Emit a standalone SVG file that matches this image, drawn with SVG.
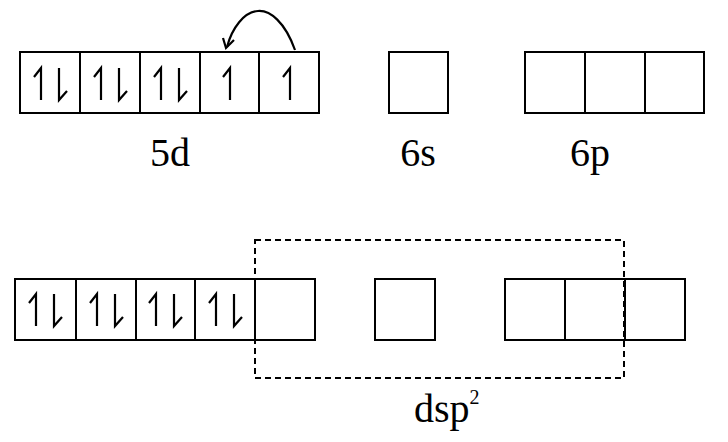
<svg xmlns="http://www.w3.org/2000/svg" width="728" height="442" viewBox="0 0 728 442">
<style>
.b{fill:#fff;stroke:#000;stroke-width:2}
.e{fill:none;stroke:#000;stroke-width:2.2}
text{font-family:'Liberation Serif','Times New Roman',serif;font-size:40px;fill:#000}
</style>
<defs>
<g id="up"><path class="e" d="M0,16V-16L-7,-7"/></g>
<g id="dn"><path class="e" d="M0,-16V16L8,7"/></g>
<g id="pair"><use href="#up" x="-9"/><use href="#dn" x="9"/></g>
</defs>
<rect width="728" height="442" fill="#fff"/>
<g id="d5">
<rect class="b" x="20" y="52" width="60" height="61"/>
<rect class="b" x="80" y="52" width="60" height="61"/>
<rect class="b" x="140" y="52" width="60" height="61"/>
<rect class="b" x="200" y="52" width="59" height="61"/>
<rect class="b" x="259" y="52" width="60" height="61"/>
<use href="#pair" x="50" y="84"/><use href="#pair" x="110" y="84"/><use href="#pair" x="170" y="84"/>
<use href="#up" x="230" y="84"/><use href="#up" x="290" y="84"/>
<text font-family="Liberation Serif, serif" x="170" y="166" text-anchor="middle">5d</text>
</g>
<g id="s6"><rect class="b" x="389" y="52" width="59" height="61"/><text font-family="Liberation Serif, serif" x="418" y="166" text-anchor="middle">6s</text></g>
<g id="p6">
<rect class="b" x="525" y="52" width="60" height="61"/><rect class="b" x="585" y="52" width="60" height="61"/><rect class="b" x="645" y="52" width="59" height="61"/>
<text font-family="Liberation Serif, serif" x="590" y="166" text-anchor="middle">6p</text>
</g>
<g id="bottom">
<rect class="b" x="15" y="279" width="61" height="61"/><rect class="b" x="76" y="279" width="60" height="61"/><rect class="b" x="136" y="279" width="59" height="61"/><rect class="b" x="195" y="279" width="60" height="61"/><rect class="b" x="255" y="279" width="60" height="61"/>
<use href="#pair" x="45" y="310"/><use href="#pair" x="106" y="310"/><use href="#pair" x="165" y="310"/><use href="#pair" x="225" y="310"/>
<rect class="b" x="375" y="279" width="60" height="61"/>
<rect class="b" x="505" y="279" width="60" height="61"/><rect class="b" x="565" y="279" width="60" height="61"/><rect class="b" x="625" y="279" width="60" height="61"/>
</g>
<g id="hybrid">
<rect x="255" y="240" width="369" height="138" fill="none" stroke="#000" stroke-width="2" stroke-dasharray="6,4"/>
<text font-family="Liberation Serif, serif" x="414" y="422">dsp<tspan font-size="20" dy="-18">2</tspan></text>
</g>
<g id="connectors">
<path class="e" d="M295,50C285,22 270,10 258,11C244,12 232,28 227,47"/>
<path class="e" d="M223,38L226,48L234,40"/>
</g>
</svg>
